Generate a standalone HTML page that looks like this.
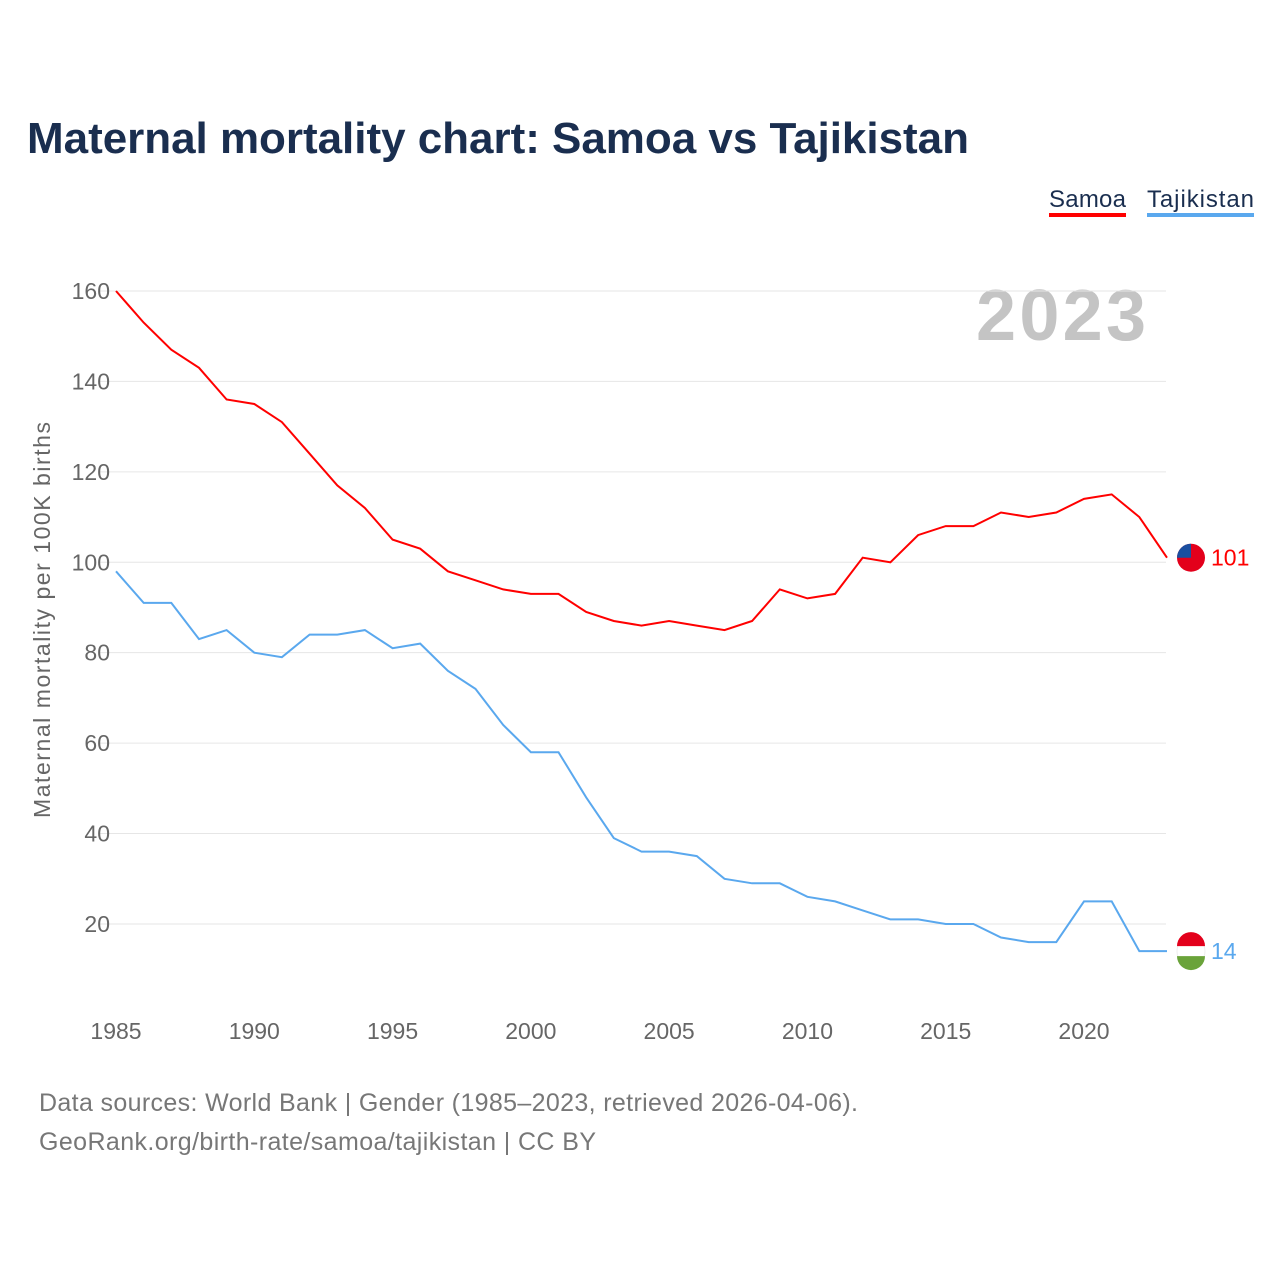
<!DOCTYPE html>
<html><head><meta charset="utf-8"><style>
body{margin:0;background:#fff;font-family:"Liberation Sans",sans-serif}
svg text{font-family:"Liberation Sans",sans-serif}
</style></head><body>
<svg id="chart" width="1280" height="1280" viewBox="0 0 1280 1280" xmlns="http://www.w3.org/2000/svg">
<text x="27" y="153" font-size="44" font-weight="bold" fill="#1a2e4f" textLength="942">Maternal mortality chart: Samoa vs Tajikistan</text>
<g><text x="1049" y="207" font-size="24" fill="#1a2e4f" textLength="77">Samoa</text><rect x="1049" y="213" width="77" height="4" fill="#ff0000"/></g>
<g><text x="1147" y="207" font-size="24" fill="#1a2e4f" textLength="107">Tajikistan</text><rect x="1147" y="213" width="107" height="4" fill="#5aa8ee"/></g>
<text x="1146" y="340" font-size="72" font-weight="bold" fill="#c4c4c4" text-anchor="end" textLength="170">2023</text>
<text transform="translate(50,620) rotate(-90)" font-size="23" fill="#666" text-anchor="middle" textLength="396">Maternal mortality per 100K births</text>
<g id="grid"></g><g id="yt"></g><g id="xt"></g><g id="lines"></g>
<text x="39" y="1111" font-size="25" fill="#777" textLength="819">Data sources: World Bank | Gender (1985–2023, retrieved 2026-04-06).</text>
<text x="39" y="1150" font-size="25" fill="#777" textLength="557">GeoRank.org/birth-rate/samoa/tajikistan | CC BY</text>
</svg>
<script>
const years=[];for(let y=1985;y<=2023;y++)years.push(y);
const samoa=[160,153,147,143,136,135,131,124,117,112,105,103,98,96,94,93,93,89,87,86,87,86,85,87,94,92,93,101,100,106,108,108,111,110,111,114,115,110,101];
const tajik=[98,91,91,83,85,80,79,84,84,85,81,82,76,72,64,58,58,48,39,36,36,35,30,29,29,26,25,23,21,21,20,20,17,16,16,25,25,14,14];
const yTicks=[20,40,60,80,100,120,140,160];
const xTicks=[1985,1990,1995,2000,2005,2010,2015,2020];
const NS="http://www.w3.org/2000/svg";
const X=y=>116+(y-1985)*27.657;
const Y=v=>1014.4-v*4.5215;
function mk(t,a,p){const e=document.createElementNS(NS,t);for(const k in a)e.setAttribute(k,a[k]);document.getElementById(p).appendChild(e);return e;}
yTicks.forEach(v=>{
 const l=mk('line',{x1:100,x2:1166,y1:Y(v),y2:Y(v),stroke:'#e6e6e6','stroke-width':1},'grid');
 
 
 const t=mk('text',{x:110,y:Y(v)+8,'font-size':23,fill:'#666','text-anchor':'end'},'yt');t.textContent=v;
 
 
});
xTicks.forEach(v=>{
 const t=mk('text',{x:X(v),y:1039,'font-size':23,fill:'#666','text-anchor':'middle'},'xt');t.textContent=v;
 
 
});
function series(vals,col,name,flag){
 const p=mk('path',{d:vals.map((v,i)=>(i?'L':'M')+X(years[i]).toFixed(1)+','+Y(v).toFixed(1)).join(''),fill:'none',stroke:col,'stroke-width':2},'lines');
 
 
 const last=vals[vals.length-1],yy=Y(last);
 const g=mk('g',{},'lines');
 
 
 g.id=name+'-flag';
 if(flag==='ws'){
  mk('circle',{cx:1191,cy:yy,r:14,fill:'#e3001b'},g.id);
  mk('path',{d:`M1177,${yy} A14,14 0 0 1 1191,${yy-14} L1191,${yy} Z`,fill:'#1a4fa0'},g.id);
 } else {
  mk('circle',{cx:1191,cy:yy,r:14,fill:'#fff',stroke:'#eee'},g.id);
  mk('path',{d:`M1177,${yy-5} A14,14 0 0 1 1205,${yy-5} Z`,fill:'#e3001b'},g.id);
  mk('path',{d:`M1177,${yy+5} A14,14 0 0 0 1205,${yy+5} Z`,fill:'#6aa33a'},g.id);
 }
 const t=mk('text',{x:1211,y:yy+8,'font-size':23,fill:col},'lines');t.textContent=last;
 
 
}
series(samoa,'#ff0000','samoa','ws');
series(tajik,'#5aa8ee','tajikistan','tj');
</script>
</body></html>
